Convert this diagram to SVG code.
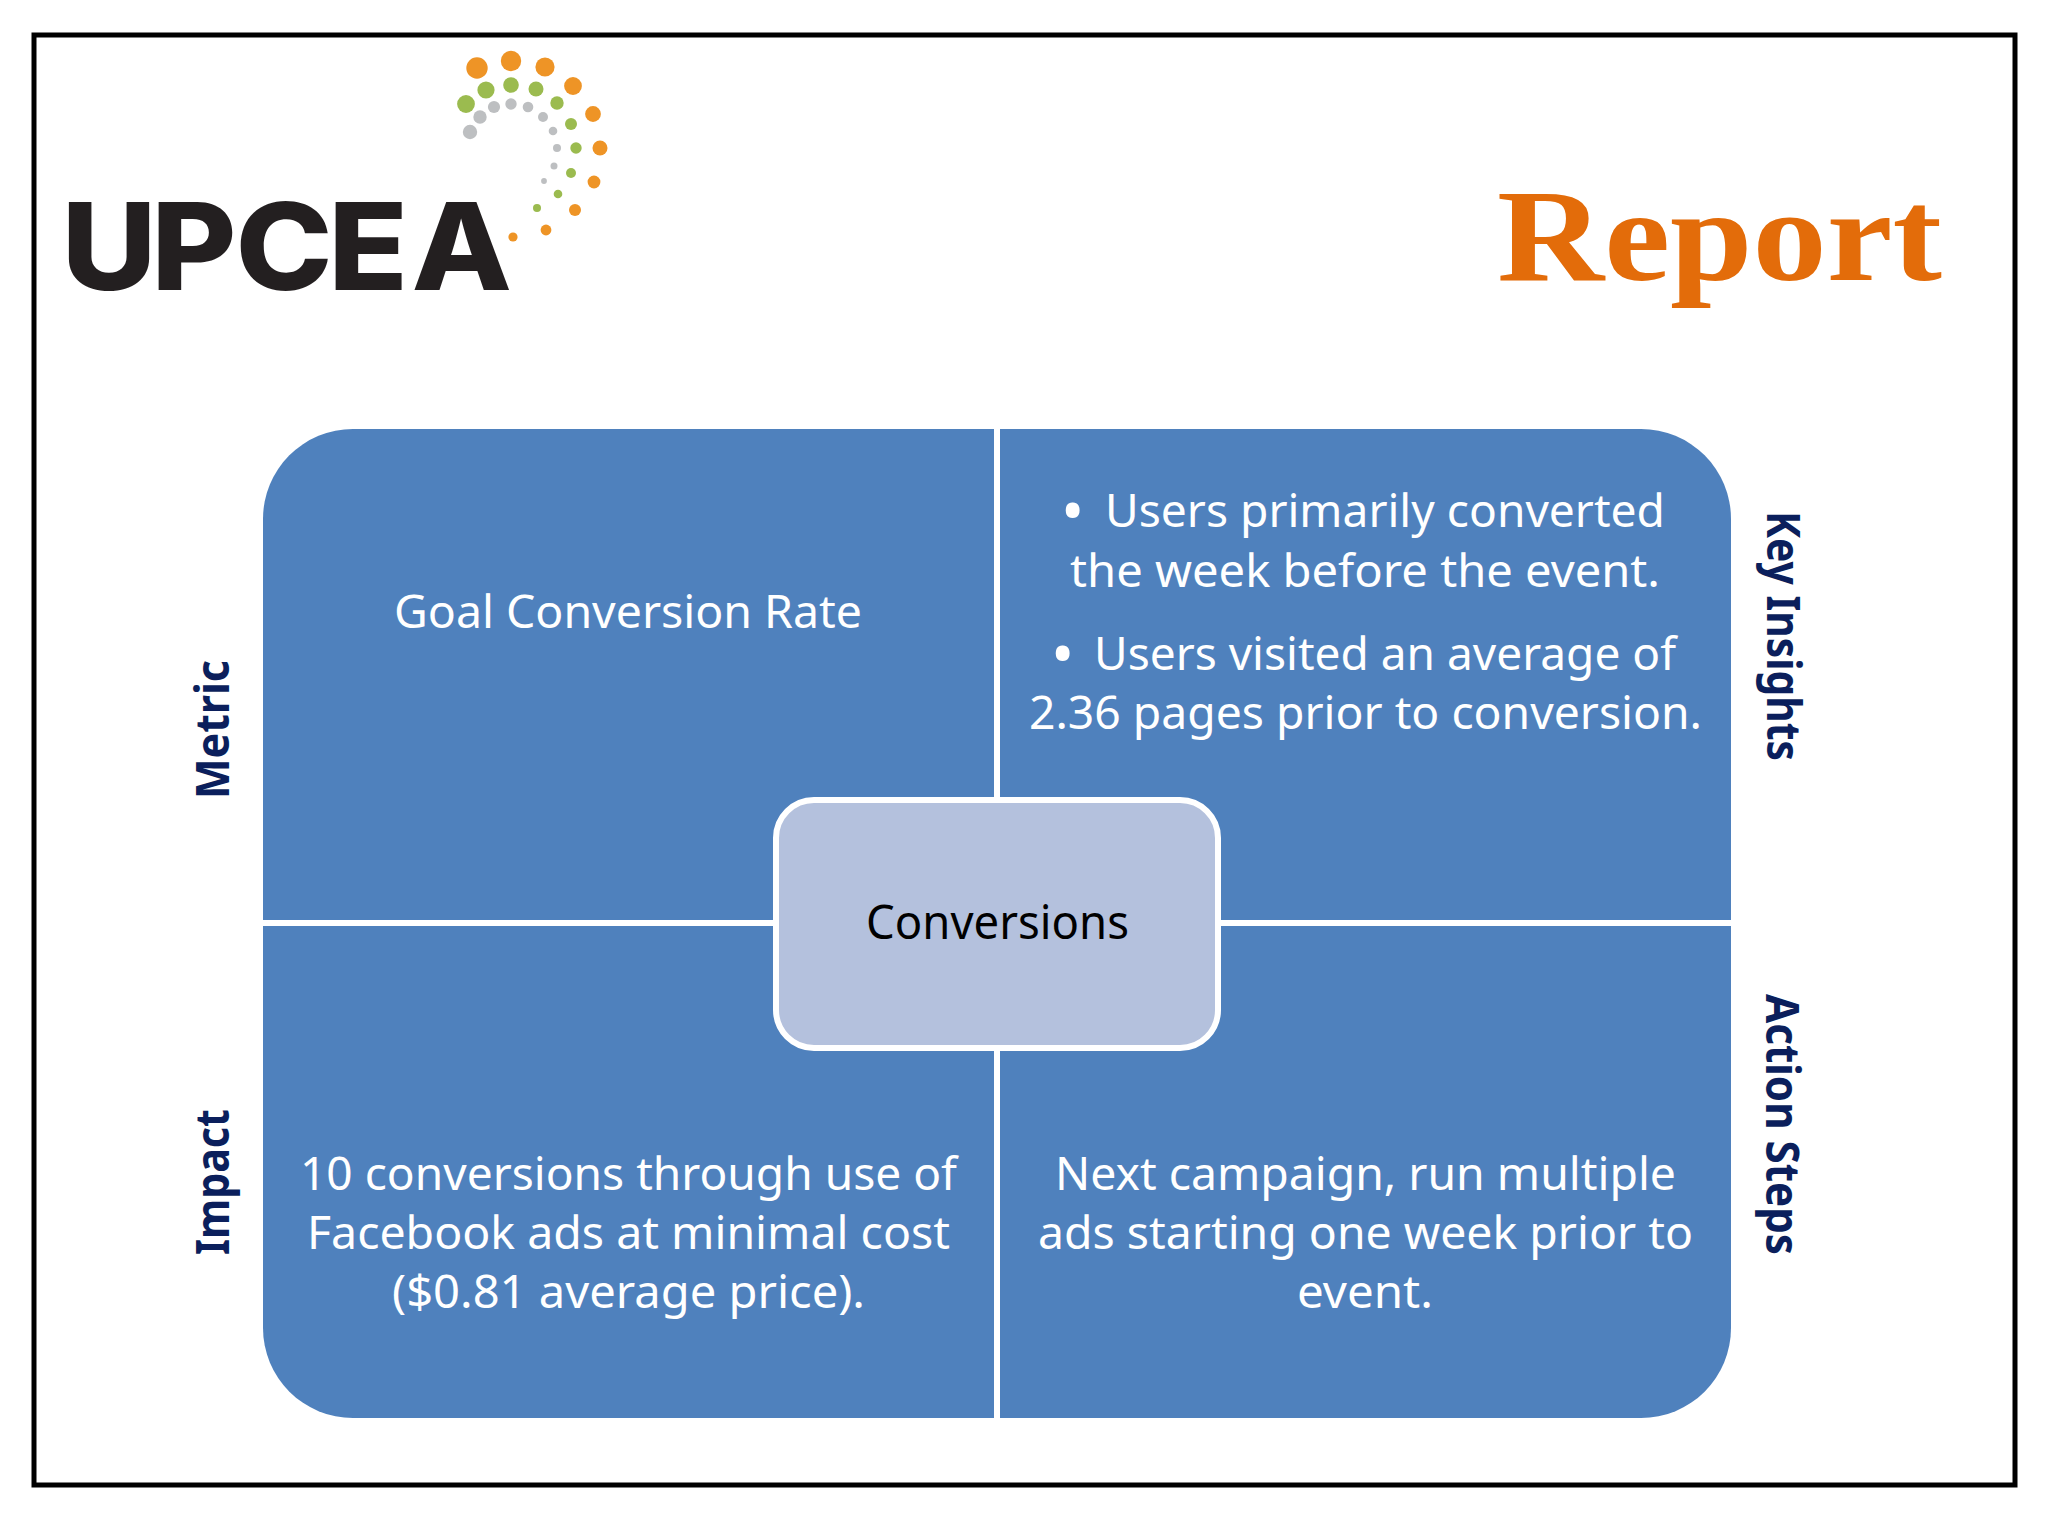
<svg xmlns="http://www.w3.org/2000/svg" width="2048" height="1536" viewBox="0 0 2048 1536">
<style>
.q{fill:#4F81BD}
.b{font-family:"Noto Sans","Open Sans",sans-serif;font-size:46px;fill:#fff}
.l{font-family:"Noto Sans","Open Sans",sans-serif;font-size:46px;font-weight:700;fill:#0B1F5C}
.o{fill:#EE9426}.g{fill:#9BBB4F}.y{fill:#BDBFC1}
</style>
<rect width="2048" height="1536" fill="#fff"/>
<rect x="34" y="35" width="1981" height="1450" fill="#fff" stroke="#000" stroke-width="5"/>
<g id="logo">
<text font-family="Inter,'Liberation Sans',sans-serif" font-weight="800" font-size="121" fill="#231F20" transform="translate(0 290) scale(1.08 1)" x="57 140 218 304 381" y="0">UPCEA</text>
<g class="o"><circle cx="477" cy="68" r="10.7"/><circle cx="511" cy="61" r="10.2"/><circle cx="545" cy="67" r="9.6"/><circle cx="573" cy="86" r="8.9"/><circle cx="593" cy="114" r="7.9"/><circle cx="600" cy="148" r="7.5"/><circle cx="594" cy="182" r="6.4"/><circle cx="575" cy="210" r="6"/><circle cx="546" cy="230" r="5.4"/><circle cx="513" cy="237" r="4.6"/></g>
<g class="g"><circle cx="466" cy="104" r="8.9"/><circle cx="486" cy="90" r="8.6"/><circle cx="511" cy="85" r="7.8"/><circle cx="536" cy="89" r="7.5"/><circle cx="557" cy="103" r="6.7"/><circle cx="571" cy="124" r="6"/><circle cx="576" cy="148" r="5.7"/><circle cx="571" cy="173" r="5"/><circle cx="558" cy="194" r="4.3"/><circle cx="537" cy="208" r="4"/></g>
<g class="y"><circle cx="470" cy="132" r="7.2"/><circle cx="480" cy="117" r="6.7"/><circle cx="494" cy="107" r="6.1"/><circle cx="511" cy="104" r="5.7"/><circle cx="528" cy="107" r="5.3"/><circle cx="543" cy="117" r="5"/><circle cx="553" cy="131" r="4.3"/><circle cx="557" cy="148" r="4"/><circle cx="554" cy="166" r="3.5"/><circle cx="544" cy="181" r="2.9"/></g>
</g>
<text id="title" font-family="'Liberation Serif',serif" font-weight="700" font-size="132" fill="#E36C0A" x="1497" y="280" textLength="445" lengthAdjust="spacingAndGlyphs">Report</text>
<g id="connectors"></g>
<g id="metric">
<path class="q" d="M994 429V920H263V519A90 90 0 0 1 353 429Z"/>
<text class="b" x="394" y="628" textLength="468" lengthAdjust="spacingAndGlyphs">Goal Conversion Rate</text>
<text class="l" transform="translate(229 799) rotate(-90)" textLength="139" lengthAdjust="spacingAndGlyphs">Metric</text>
</g>
<g id="key-insights">
<path class="q" d="M1000 429H1641A90 90 0 0 1 1731 519V920H1000Z"/>
<text class="b" x="1061" y="533" font-size="62" style="font-size:62px">•</text>
<text class="b" x="1105" y="527" textLength="560" lengthAdjust="spacingAndGlyphs">Users primarily converted</text>
<text class="b" x="1070" y="587" textLength="590" lengthAdjust="spacingAndGlyphs">the week before the event.</text>
<text class="b" x="1051" y="676" style="font-size:62px">•</text>
<text class="b" x="1094" y="670" textLength="582" lengthAdjust="spacingAndGlyphs">Users visited an average of</text>
<text class="b" x="1029" y="729" textLength="673" lengthAdjust="spacingAndGlyphs">2.36 pages prior to conversion.</text>
<text class="l" transform="translate(1767 511) rotate(90)" textLength="250" lengthAdjust="spacingAndGlyphs">Key Insights</text>
</g>
<g id="impact">
<path class="q" d="M263 926H994V1418H353A90 90 0 0 1 263 1328Z"/>
<text class="b" x="300" y="1190" textLength="657" lengthAdjust="spacingAndGlyphs">10 conversions through use of</text>
<text class="b" x="307" y="1249" textLength="643" lengthAdjust="spacingAndGlyphs">Facebook ads at minimal cost</text>
<text class="b" x="392" y="1308" textLength="473" lengthAdjust="spacingAndGlyphs">($0.81 average price).</text>
<text class="l" transform="translate(229 1255) rotate(-90)" textLength="146" lengthAdjust="spacingAndGlyphs">Impact</text>
</g>
<g id="action-steps">
<path class="q" d="M1000 926H1731V1328A90 90 0 0 1 1641 1418H1000Z"/>
<text class="b" x="1055" y="1190" textLength="621" lengthAdjust="spacingAndGlyphs">Next campaign, run multiple</text>
<text class="b" x="1038" y="1249" textLength="655" lengthAdjust="spacingAndGlyphs">ads starting one week prior to</text>
<text class="b" x="1297" y="1308" textLength="136" lengthAdjust="spacingAndGlyphs">event.</text>
<text class="l" transform="translate(1766 994) rotate(90)" textLength="261" lengthAdjust="spacingAndGlyphs">Action Steps</text>
</g>
<g id="conversions">
<rect x="776" y="800" width="442" height="248" rx="38" fill="#B4C1DD" stroke="#fff" stroke-width="6"/>
<text x="866" y="939" font-family="'Noto Sans','Open Sans',sans-serif" font-size="47" fill="#000" textLength="263" lengthAdjust="spacingAndGlyphs">Conversions</text>
</g>
</svg>
